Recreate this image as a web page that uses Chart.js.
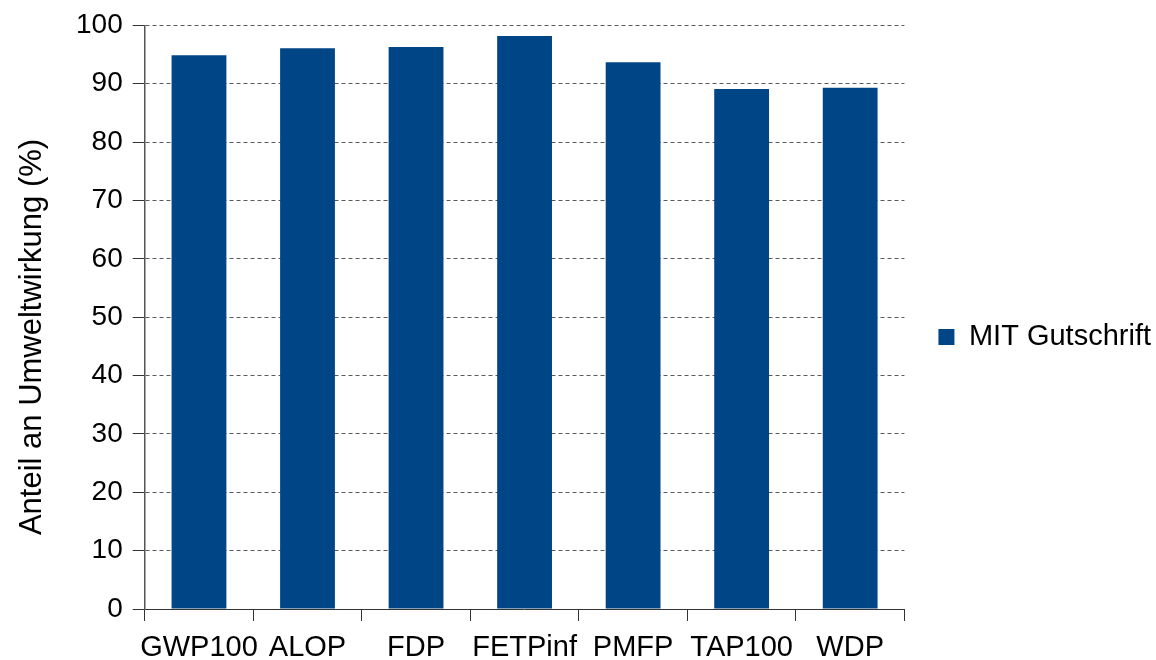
<!DOCTYPE html>
<html lang="de">
<head>
<meta charset="utf-8">
<title>Anteil an Umweltwirkung</title>
<script src="https://cdn.jsdelivr.net/npm/chart.js@4/dist/chart.umd.min.js"></script>
<style>
  html, body { margin: 0; padding: 0; background: #ffffff; }
  #wrap { width: 1156px; height: 660px; position: relative; }
</style>
</head>
<body>
<div id="wrap"><canvas id="chart" width="1156" height="660"></canvas></div>
<script>
// Wirkungskategorien
const categories = ['GWP100', 'ALOP', 'FDP', 'FETPinf', 'PMFP', 'TAP100', 'WDP'];
// Anteil an der Umweltwirkung in Prozent
const mitGutschrift = [94.9, 96.1, 96.3, 98.2, 93.7, 89.1, 89.3];
const seriesName = 'MIT Gutschrift';
const yAxisTitle = 'Anteil an Umweltwirkung (%)';
const yMin = 0;
const yMax = 100;
const yStep = 10;

const FONT = "'Liberation Sans', Arial, sans-serif";

// rotated y axis title, placed on the left edge of the canvas
const axisTitlePlugin = {
  id: 'axisTitle',
  afterDraw(chart) {
    const ctx = chart.ctx;
    ctx.save();
    ctx.translate(32, 337);
    ctx.rotate(-Math.PI / 2);
    ctx.font = '31px ' + FONT;
    ctx.fillStyle = '#000000';
    ctx.textAlign = 'center';
    ctx.textBaseline = 'middle';
    ctx.fillText(yAxisTitle, 0, 0);
    ctx.restore();
  }
};

new Chart(document.getElementById('chart'), {
  type: 'bar',
  data: {
    labels: categories,
    datasets: [{
      label: seriesName,
      data: mitGutschrift,
      backgroundColor: '#004586',
      borderWidth: 0,
      categoryPercentage: 1.0,
      barPercentage: 0.505
    }]
  },
  options: {
    responsive: false,
    animation: false,
    devicePixelRatio: 1,
    layout: { padding: { left: 66, right: -5, top: 0, bottom: -14 } },
    plugins: {
      legend: {
        position: 'right',
        labels: {
          boxWidth: 16,
          boxHeight: 16,
          padding: 34,
          color: '#000000',
          font: { family: FONT, size: 29 }
        }
      },
      tooltip: { enabled: false }
    },
    scales: {
      x: {
        offset: true,
        grid: {
          offset: true,
          drawOnChartArea: true,
          color: (c) => (c.index === categories.length ? '#b3b3b3' : 'rgba(0,0,0,0)'),
          tickColor: '#333333',
          tickLength: 12,
          lineWidth: 1
        },
        border: { color: '#333333', width: 1 },
        ticks: {
          color: '#000000',
          font: { family: FONT, size: 29, lineHeight: 1.0 },
          padding: 12,
          maxRotation: 0,
          autoSkip: false
        }
      },
      y: {
        min: yMin,
        max: yMax,
        grid: {
          color: (c) => (c.tick && c.tick.value === yMin ? 'rgba(0,0,0,0)' : '#5a5a5a'),
          tickColor: '#333333',
          tickLength: 12,
          lineWidth: 1
        },
        border: { color: '#555555', width: 1.5, dash: [4, 3] },
        ticks: {
          stepSize: yStep,
          color: '#000000',
          font: { family: FONT, size: 28, lineHeight: 1.1 },
          padding: 10
        }
      }
    }
  },
  plugins: [axisTitlePlugin]
});
</script>
</body>
</html>
